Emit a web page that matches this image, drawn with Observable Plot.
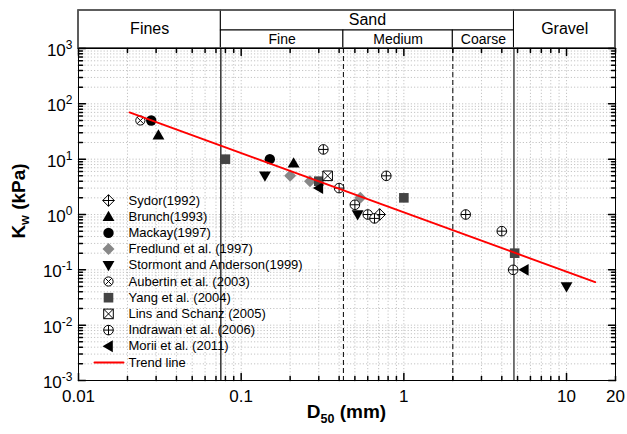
<!DOCTYPE html>
<html>
<head>
<meta charset="utf-8">
<script src="https://cdn.jsdelivr.net/npm/d3@7"></script>
<script src="https://cdn.jsdelivr.net/npm/@observablehq/plot@0.6"></script>
<style>
  body { margin: 0; background: #fff; }
  #chart { width: 627px; height: 434px; }
</style>
</head>
<body>
<div id="chart"></div>
<script>
// Grain-size class boundaries (mm): fines|sand, fine|medium, medium|coarse, sand|gravel
const soilBounds = [0.075, 0.425, 2, 4.75];
const sizeRange = [0.01, 20];
const kwRange = [1e-3, 1e3];
const mainClasses = ["Fines", "Sand", "Gravel"];
const sandClasses = ["Fine", "Medium", "Coarse"];
const xTickLabels = [0.01, 0.1, 1, 10, 20];
const yTickExponents = [-3, -2, -1, 0, 1, 2, 3];

// Series: D50 (mm) and Kw (kPa)
const seriesNames = [
  "Sydor(1992)", "Brunch(1993)", "Mackay(1997)", "Fredlund et al. (1997)",
  "Stormont and Anderson(1999)", "Aubertin et al. (2003)", "Yang et al. (2004)",
  "Lins and Schanz (2005)", "Indrawan et al. (2006)", "Morii et al. (2011)"
];
const sydorD50 = [0.71];
const sydorKw = [1.0];
const brunchD50 = [0.031, 0.21];
const brunchKw = [27, 8.5];
const mackayD50 = [0.028, 0.15];
const mackayKw = [50, 10];
const fredlundD50 = [0.2, 0.265, 0.54];
const fredlundKw = [5, 4, 2];
const stormontD50 = [0.14, 0.52, 10.0];
const stormontKw = [5, 1.0, 0.05];
const aubertinD50 = [0.024];
const aubertinKw = [50];
const yangD50 = [0.08, 0.3, 1.0, 4.8];
const yangKw = [10, 4, 2, 0.2];
const linsD50 = [0.34];
const linsKw = [5];
const indrawanD50 = [0.32, 0.4, 0.5, 0.6, 0.66, 0.78, 2.4, 4.0, 4.7];
const indrawanKw = [15, 3, 1.5, 1.0, 0.85, 5, 1.0, 0.5, 0.1];
const moriiD50 = [0.30, 5.5];
const moriiKw = [3, 0.1];
const trendD50 = [0.0206, 15];
const trendKw = [70, 0.06];
const trendName = "Trend line";

// ---- marker shapes (size is the symbol area, as in d3.symbol) ----
const rad = (s) => Math.sqrt(s / Math.PI);
const circlePath = (c, r) => { c.moveTo(r, 0); c.arc(0, 0, r, 0, 2 * Math.PI); };
const squarePath = (c, r) => { c.moveTo(-r, -r); c.lineTo(r, -r); c.lineTo(r, r); c.lineTo(-r, r); c.closePath(); };
const diamondPath = (c, r) => { c.moveTo(0, -r); c.lineTo(r, 0); c.lineTo(0, r); c.lineTo(-r, 0); c.closePath(); };
const plusPath = (c, r) => { c.moveTo(-r, 0); c.lineTo(r, 0); c.moveTo(0, -r); c.lineTo(0, r); };
const timesPath = (c, r) => { c.moveTo(-r, -r); c.lineTo(r, r); c.moveTo(r, -r); c.lineTo(-r, r); };
const symbols = {
  diamondPlus: { draw(c, s) { const r = rad(s); diamondPath(c, r); plusPath(c, r); } },
  triUp: { draw(c, s) { const r = rad(s); c.moveTo(0, -1.1 * r); c.lineTo(1.1 * r, 0.8 * r); c.lineTo(-1.1 * r, 0.8 * r); c.closePath(); } },
  triDown: { draw(c, s) { const r = rad(s); c.moveTo(0, 1.1 * r); c.lineTo(1.1 * r, -0.8 * r); c.lineTo(-1.1 * r, -0.8 * r); c.closePath(); } },
  triLeft: { draw(c, s) { const r = rad(s); c.moveTo(-1.1 * r, 0); c.lineTo(0.8 * r, -1.1 * r); c.lineTo(0.8 * r, 1.1 * r); c.closePath(); } },
  circle: { draw(c, s) { circlePath(c, rad(s)); } },
  diamond: { draw(c, s) { diamondPath(c, rad(s)); } },
  square: { draw(c, s) { squarePath(c, rad(s)); } },
  circleTimes: { draw(c, s) { const r = rad(s); circlePath(c, r); timesPath(c, r * 0.707); } },
  circlePlus: { draw(c, s) { const r = rad(s); circlePath(c, r); plusPath(c, r); } },
  squareTimes: { draw(c, s) { const r = rad(s); squarePath(c, r); timesPath(c, r); } }
};

const open = { fill: "white", stroke: "black", strokeWidth: 1 };
const series = [
  { d50: sydorD50, kw: sydorKw, symbol: symbols.diamondPlus, r: 5.8, ...open },
  { d50: brunchD50, kw: brunchKw, symbol: symbols.triUp, r: 5.4, fill: "black", stroke: "none" },
  { d50: mackayD50, kw: mackayKw, symbol: symbols.circle, r: 5.2, fill: "black", stroke: "none" },
  { d50: fredlundD50, kw: fredlundKw, symbol: symbols.diamond, r: 6, fill: "#888", stroke: "none" },
  { d50: stormontD50, kw: stormontKw, symbol: symbols.triDown, r: 5.4, fill: "black", stroke: "none" },
  { d50: aubertinD50, kw: aubertinKw, symbol: symbols.circleTimes, r: 4.6, ...open },
  { d50: yangD50, kw: yangKw, symbol: symbols.square, r: 4.8, fill: "#444", stroke: "none" },
  { d50: linsD50, kw: linsKw, symbol: symbols.squareTimes, r: 4.8, ...open },
  { d50: indrawanD50, kw: indrawanKw, symbol: symbols.circlePlus, r: 4.8, ...open },
  { d50: moriiD50, kw: moriiKw, symbol: symbols.triLeft, r: 5.4, fill: "black", stroke: "none" }
].map((s, i) => ({ ...s, name: seriesNames[i], rows: s.d50.map((d, j) => ({ D50: d, Kw: s.kw[j] })) }));

// ---- axis structure ----
const decades = (lo, hi) => d3.range(Math.round(Math.log10(lo)), Math.round(Math.log10(hi)) + 1);
const logTicks = (lo, hi) => decades(lo, hi).flatMap((e) => d3.range(1, 10).map((m) => m * Math.pow(10, e))).filter((v) => v >= lo * 0.999 && v <= hi * 1.001);
const xAll = logTicks(sizeRange[0], sizeRange[1]);
const xMajor = xAll.filter((v) => Math.abs(Math.log10(v) - Math.round(Math.log10(v))) < 1e-9);
const xMinor = xAll.filter((v) => !xMajor.includes(v));
const yAll = logTicks(kwRange[0], kwRange[1]);
const yMajor = yTickExponents.map((e) => Math.pow(10, e));
const yMinor = yAll.filter((v) => Math.abs(Math.log10(v) - Math.round(Math.log10(v))) > 1e-9);

// inward tick shape
const tickShape = { draw(c, l) { c.moveTo(0, 0); c.lineTo(0, -l); } };
const ticksX = (vals, len) => [
  Plot.vector(vals, { x: (d) => d, frameAnchor: "bottom", length: len, rotate: 0, anchor: "start", shape: tickShape, stroke: "black" }),
  Plot.vector(vals, { x: (d) => d, frameAnchor: "top", length: len, rotate: 180, anchor: "start", shape: tickShape, stroke: "black" })
];
const ticksY = (vals, len) => [
  Plot.vector(vals, { y: (d) => d, frameAnchor: "left", length: len, rotate: 90, anchor: "start", shape: tickShape, stroke: "black" }),
  Plot.vector(vals, { y: (d) => d, frameAnchor: "right", length: len, rotate: -90, anchor: "start", shape: tickShape, stroke: "black" })
];

// ---- header cells for the soil classification ----
const W = 627, H = 434, mL = 78, mR = 12, mT = 48, mB = 54;
const frameH = H - mT - mB;
const headerH = 38, subRowH = 18;
const geo = (a, b) => Math.sqrt(a * b);
const fullCells = [
  { x1: sizeRange[0], x2: soilBounds[0], label: mainClasses[0] },
  { x1: soilBounds[3], x2: sizeRange[1], label: mainClasses[2] }
];
const sandTop = [{ x1: soilBounds[0], x2: soilBounds[3], label: mainClasses[1] }];
const sandSub = [
  { x1: soilBounds[0], x2: soilBounds[1], label: sandClasses[0] },
  { x1: soilBounds[1], x2: soilBounds[2], label: sandClasses[1] },
  { x1: soilBounds[2], x2: soilBounds[3], label: sandClasses[2] }
];
const cellX = (d) => geo(d.x1, d.x2);

// ---- legend ----
const legendY0 = 200 - (H - mB); // first entry, relative to frame bottom
const legendStep = 16.2;
const legendMarks = series.flatMap((s, i) => [
  Plot.dot([s.name], { frameAnchor: "bottom-left", dx: 30, dy: legendY0 + i * legendStep, symbol: s.symbol, r: s.r, fill: s.fill, stroke: s.stroke, strokeWidth: s.strokeWidth ?? 1 }),
  Plot.text([s.name], { frameAnchor: "bottom-left", dx: 50, dy: legendY0 + i * legendStep, text: (d) => d, textAnchor: "start", lineAnchor: "middle", fontSize: 13, fill: "black" })
]).concat([
  Plot.vector([trendName], { frameAnchor: "bottom-left", dx: 30.5, dy: legendY0 + 10 * legendStep, length: 29, rotate: 90, anchor: "middle", shape: tickShape, stroke: "red", strokeWidth: 2 }),
  Plot.text([trendName], { frameAnchor: "bottom-left", dx: 50, dy: legendY0 + 10 * legendStep, text: (d) => d, textAnchor: "start", lineAnchor: "middle", fontSize: 13, fill: "black" })
]);

const trendRows = trendD50.map((d, i) => ({ D50: d, Kw: trendKw[i] }));
const gridStyle = { stroke: "#b5b5b5", strokeOpacity: 1, strokeDasharray: "1.2,2", strokeWidth: 0.8 };

const plot = Plot.plot({
  width: W,
  height: H,
  marginLeft: mL,
  marginRight: mR,
  marginTop: mT,
  marginBottom: mB,
  style: { fontFamily: "'Liberation Sans', Arial, Helvetica, sans-serif", background: "white", color: "black" },
  x: { type: "log", domain: sizeRange },
  y: { type: "log", domain: kwRange },
  marks: [
    Plot.gridX({ ticks: xAll, ...gridStyle }),
    Plot.gridY({ ticks: yAll, ...gridStyle }),
    // class boundaries inside the plot
    Plot.ruleX([soilBounds[0]], { stroke: "black", strokeWidth: 1.2 }),
    Plot.ruleX([soilBounds[1], soilBounds[2]], { stroke: "black", strokeWidth: 1, strokeDasharray: "5,3" }),
    Plot.ruleX([soilBounds[3]], { stroke: "#555", strokeWidth: 1.6 }),
    // header boxes
    Plot.rect(fullCells, { x1: "x1", x2: "x2", insetTop: -headerH, insetBottom: frameH, fill: "white", stroke: "black" }),
    Plot.rect(sandTop, { x1: "x1", x2: "x2", insetTop: -headerH, insetBottom: frameH + subRowH, fill: "white", stroke: "black" }),
    Plot.rect(sandSub, { x1: "x1", x2: "x2", insetTop: -subRowH, insetBottom: frameH, fill: "white", stroke: "black" }),
    Plot.rect([sizeRange], { x1: (d) => d[0], x2: (d) => d[1], insetTop: -headerH, insetBottom: frameH, fill: "none", stroke: "#555", strokeWidth: 1.6 }),
    Plot.text(fullCells, { x: cellX, frameAnchor: "top", dy: -19.5, text: "label", fontSize: 16, lineAnchor: "middle", fill: "black" }),
    Plot.text(sandTop, { x: cellX, frameAnchor: "top", dy: -28.5, text: "label", fontSize: 16, lineAnchor: "middle", fill: "black" }),
    Plot.text(sandSub, { x: cellX, frameAnchor: "top", dy: -9, text: "label", fontSize: 14, lineAnchor: "middle", fill: "black" }),
    Plot.frame({ stroke: "black", strokeWidth: 1 }),
    ...ticksX(xMinor, 4),
    ...ticksX(xMajor, 7),
    ...ticksY(yMinor, 4),
    ...ticksY(yMajor, 7),
    Plot.axisX({ ticks: xTickLabels, tickSize: 0, tickPadding: 9, tickFormat: (d) => String(d), fontSize: 17, label: null }),
    Plot.axisY({ ticks: yMajor, tickSize: 0, tickPadding: 6, dy: 2, tickFormat: (d) => "10^" + Math.round(Math.log10(d)), fontSize: 17, label: null }),
    ...legendMarks,
    ...series.map((s) => Plot.dot(s.rows, { x: "D50", y: "Kw", symbol: s.symbol, r: s.r, fill: s.fill, stroke: s.stroke, strokeWidth: s.strokeWidth ?? 1 })),
    Plot.line(trendRows, { x: "D50", y: "Kw", stroke: "red", strokeWidth: 1.9 })
  ]
});

const chart = document.getElementById("chart");
chart.append(plot);
const svgEl = plot.tagName.toLowerCase() === "svg" ? plot : plot.querySelector("svg");
const svg = d3.select(svgEl);

// exponent labels: 10 with a raised power
svg.selectAll('g[aria-label="y-axis tick label"] text').each(function () {
  const [base, power] = this.textContent.split("^");
  const t = d3.select(this);
  t.text(null);
  t.append("tspan").text(base);
  t.append("tspan").attr("font-size", 12).attr("dy", -7).text(power);
});

// axis titles with subscripts
const xTitle = svg.append("text")
  .attr("x", (mL + W - mR) / 2)
  .attr("y", 418)
  .attr("text-anchor", "middle")
  .attr("font-weight", "bold")
  .attr("font-size", 19)
  .attr("fill", "black");
xTitle.append("tspan").text("D");
xTitle.append("tspan").attr("font-size", 12.5).attr("dy", 5).text("50");
xTitle.append("tspan").attr("dy", -5).text(" (mm)");

const yTitle = svg.append("text")
  .attr("transform", `translate(25,${201}) rotate(-90)`)
  .attr("text-anchor", "middle")
  .attr("font-weight", "bold")
  .attr("font-size", 19)
  .attr("fill", "black");
yTitle.append("tspan").text("K");
yTitle.append("tspan").attr("font-size", 12.5).attr("dy", 4).text("w");
yTitle.append("tspan").attr("dy", -4).text(" (kPa)");
</script>
</body>
</html>
